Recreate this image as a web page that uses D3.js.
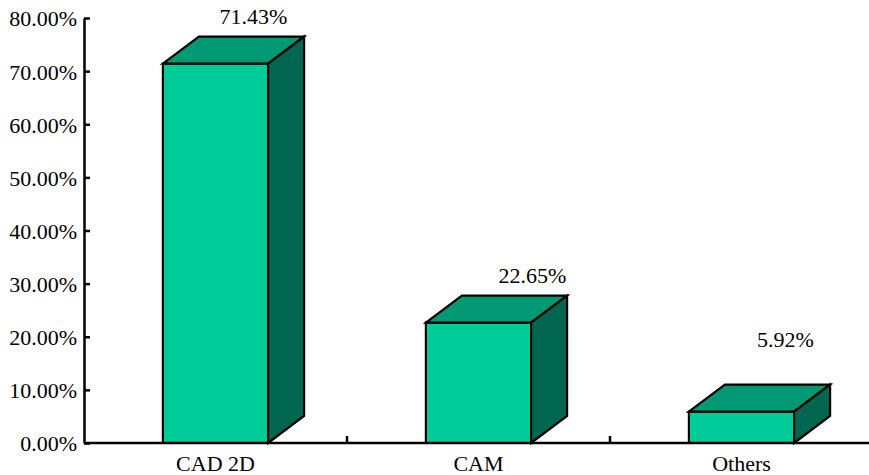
<!DOCTYPE html>
<html>
<head>
<meta charset="utf-8">
<script src="https://cdn.jsdelivr.net/npm/d3@7"></script>
<style>
  html, body { margin: 0; padding: 0; background: #fff; }
  svg { display: block; }
  text { font-family: "Liberation Serif", "Times New Roman", serif; fill: #000; }
</style>
</head>
<body>
<svg id="chart" width="869" height="475"></svg>
<script>
// Share of use by software type
const categories = ["CAD 2D", "CAM", "Others"];
const values = [0.7143, 0.2265, 0.0592];
const valueLabels = ["71.43%", "22.65%", "5.92%"];
const yTicks = [0, 0.1, 0.2, 0.3, 0.4, 0.5, 0.6, 0.7, 0.8];

// Layout
const W = 869, H = 475;
const plot = { left: 84, right: 873, top: 18, bottom: 443 };
const depthX = 36, depthY = 27;          // 3D extrusion of each bar
const faceRatio = 0.4;                   // front face width / category width
const labelShift = [[38, -40], [54, -40], [44, -65]]; // value label placement from bar top centre
const colFront = "#00CC99", colTop = "#009973", colSide = "#006650";

const svg = d3.select("#chart");

const x = d3.scaleBand().domain(categories).range([plot.left, plot.right]).padding(0);
const y = d3.scaleLinear().domain([0, 0.8]).range([plot.bottom, plot.top]);

const fontSize = 22;

// Y axis: ticks point into the plot
const yAxis = d3.axisLeft(y)
  .tickValues(yTicks)
  .tickFormat(d3.format(".2%"))
  .tickSizeInner(-6)
  .tickSizeOuter(0)
  .tickPadding(7);

const gy = svg.append("g")
  .attr("transform", `translate(${plot.left},0)`)
  .call(yAxis);
gy.select(".domain").attr("stroke", "#000").attr("stroke-width", 2.5);
gy.selectAll(".tick line").attr("stroke", "#000").attr("stroke-width", 2.5);
gy.selectAll(".tick text")
  .attr("font-size", fontSize)
  .attr("font-family", "'Liberation Serif', 'Times New Roman', serif")
  .attr("fill", "#000")
  .attr("dy", "0.36em");

// Bars (front, top and side faces)
const bw = x.bandwidth() * faceRatio;
const bars = svg.append("g").selectAll("g")
  .data(categories.map((c, i) => ({ c, v: values[i], i })))
  .join("g");

const poly = pts => "M" + pts.map(p => p.join(",")).join("L") + "Z";

bars.each(function (d) {
  const g = d3.select(this);
  const x0 = x(d.c) + (x.bandwidth() - bw) / 2, x1 = x0 + bw;
  const yt = y(d.v), yb = y(0);
  g.append("path")
    .attr("d", poly([[x0, yb], [x0, yt], [x1, yt], [x1, yb]]))
    .attr("fill", colFront);
  g.append("path")
    .attr("d", poly([[x0, yt], [x0 + depthX, yt - depthY], [x1 + depthX, yt - depthY], [x1, yt]]))
    .attr("fill", colTop);
  g.append("path")
    .attr("d", poly([[x1, yt], [x1 + depthX, yt - depthY], [x1 + depthX, yb - depthY], [x1, yb]]))
    .attr("fill", colSide);
  g.selectAll("path")
    .attr("stroke", "#000")
    .attr("stroke-width", 2.2)
    .attr("stroke-linejoin", "miter");
});

// Value labels
svg.append("g").selectAll("text")
  .data(categories.map((c, i) => ({ c, v: values[i], t: valueLabels[i], s: labelShift[i] })))
  .join("text")
  .attr("x", d => x(d.c) + x.bandwidth() / 2 + d.s[0])
  .attr("y", d => y(d.v) + d.s[1])
  .attr("text-anchor", "middle")
  .attr("font-size", fontSize)
  .text(d => d.t);

// X axis: baseline, separators between categories and category names
const gx = svg.append("g");
gx.append("line")
  .attr("x1", plot.left).attr("x2", W)
  .attr("y1", y(0)).attr("y2", y(0))
  .attr("stroke", "#000").attr("stroke-width", 2.5);
gx.selectAll("line.sep")
  .data(categories.slice(1))
  .join("line")
  .attr("class", "sep")
  .attr("x1", d => x(d)).attr("x2", d => x(d))
  .attr("y1", y(0)).attr("y2", y(0) - 7)
  .attr("stroke", "#000").attr("stroke-width", 2.5);
gx.selectAll("text")
  .data(categories)
  .join("text")
  .attr("x", d => x(d) + x.bandwidth() / 2)
  .attr("y", y(0) + 28)
  .attr("text-anchor", "middle")
  .attr("font-size", fontSize)
  .text(d => d);
</script>
</body>
</html>
